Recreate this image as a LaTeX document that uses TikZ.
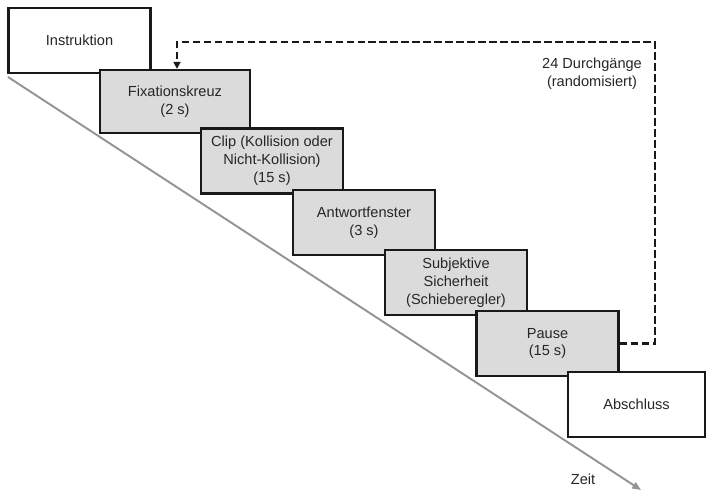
\documentclass[tikz,border=0pt]{standalone}
\usepackage{fontspec}
\setmainfont{Liberation Sans}
\usetikzlibrary{arrows.meta}
\begin{document}
\begin{tikzpicture}[
            x=0.02cm, y=-0.02cm,
            step box/.style={rectangle, draw=black!90, line width=1.3pt, minimum width=2.84cm, minimum height=1.3cm, inner sep=1pt},
            white box/.style={step box, fill=white},
            grey box/.style={step box, fill=black!14},
            loop line/.style={draw=black!90, line width=1.4pt, dash pattern=on 0.15cm off 0.07cm},
            time line/.style={draw=black!42, line width=1.1pt},
            every node/.style={align=center, font=\fontsize{8.3}{10.2}\selectfont, text=black!85}
    ]
        \useasboundingbox (0,0) rectangle (707,491);

        % Time axis
        \coordinate (t_start) at (8,77);
        \coordinate (t_end) at (641,490);
        \draw[time line, -{Triangle[length=5pt,width=4pt]}] (t_start) -- (t_end);
        \node (zeit) at (583,479) {Zeit};

        % Steps
        \node[white box] (instr) at (79.5,40.5) {Instruktion};
        \node[grey box, minimum width=3cm, minimum height=1.26cm] (fix) at (175,101.5) {Fixationskreuz\\(2 s)};
        \node[grey box] (clip) at (272,161) {Clip (Kollision oder\\Nicht-Kollision)\\(15 s)};
        \node[grey box] (answer) at (364,222.5) {Antwortfenster\\(3 s)};
        \node[grey box] (conf) at (456,282.5) {Subjektive\\Sicherheit\\(Schieberegler)};
        \node[grey box] (pause) at (547.5,343.5) {Pause\\(15 s)};
        \node[white box, minimum width=2.74cm] (end) at (636.5,404.5) {Abschluss};

        % Trial loop
        \coordinate (loop_r) at (655,343.5);
        \coordinate (loop_tr) at (655,42);
        \coordinate (loop_tl) at (177,42);
        \draw[loop line, -{Triangle[length=4pt,width=4pt]}] (pause.east) -- (loop_r) -- (loop_tr) -- (loop_tl) -- (loop_tl |- fix.north);
        \node (trials) at (592,74) {24 Durchgänge\\(randomisiert)};

    \end{tikzpicture}
\end{document}
